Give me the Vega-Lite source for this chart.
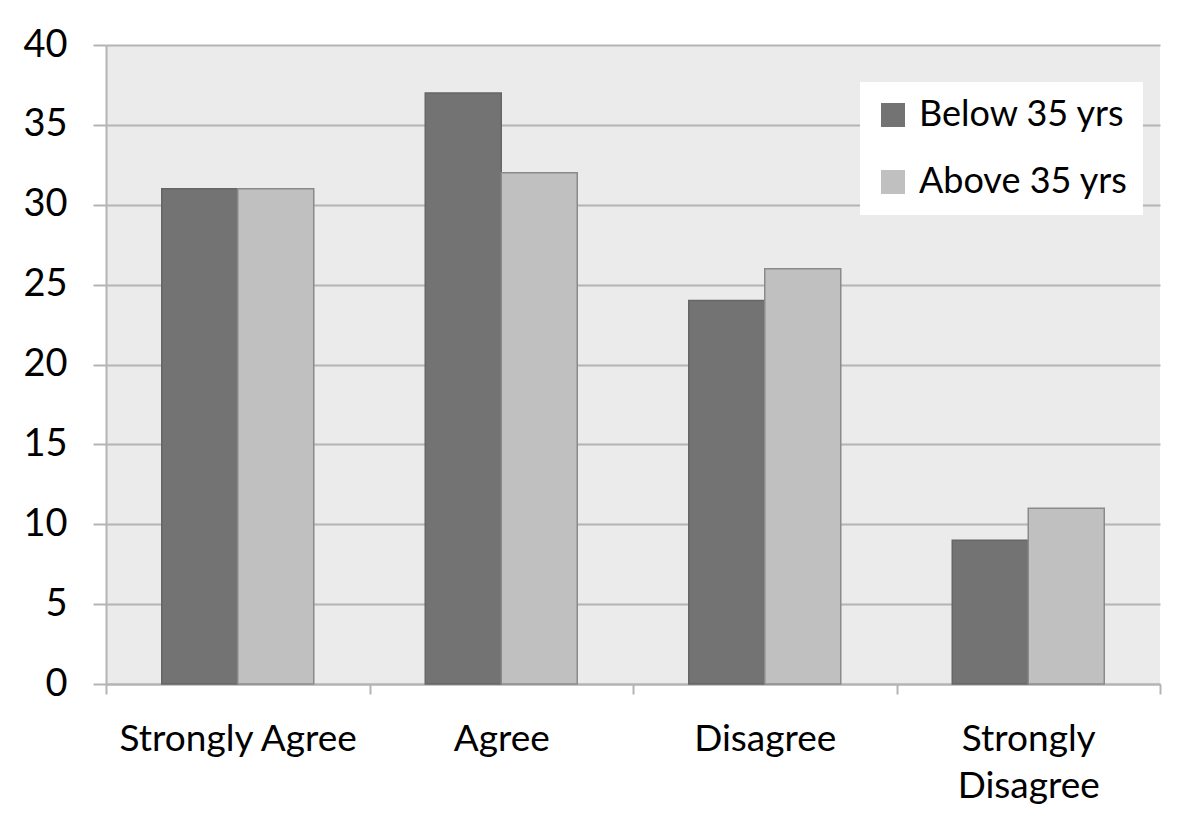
{
  "$schema": "https://vega.github.io/schema/vega-lite/v6.json",
  "autosize": "none",
  "width": 1054,
  "height": 639,
  "padding": {"left": 106, "top": 45, "right": 40, "bottom": 132},
  "background": "white",
  "data": {
    "values": [
      {"response": "Strongly Agree", "group": "Below 35 yrs", "percent": 31},
      {"response": "Strongly Agree", "group": "Above 35 yrs", "percent": 31},
      {"response": "Agree", "group": "Below 35 yrs", "percent": 37},
      {"response": "Agree", "group": "Above 35 yrs", "percent": 32},
      {"response": "Disagree", "group": "Below 35 yrs", "percent": 24},
      {"response": "Disagree", "group": "Above 35 yrs", "percent": 26},
      {"response": "Strongly Disagree", "group": "Below 35 yrs", "percent": 9},
      {"response": "Strongly Disagree", "group": "Above 35 yrs", "percent": 11}
    ]
  },
  "mark": {"type": "bar", "strokeWidth": 1.5},
  "encoding": {
    "x": {
      "field": "response",
      "type": "nominal",
      "sort": ["Strongly Agree", "Agree", "Disagree", "Strongly Disagree"],
      "scale": {"paddingInner": 0, "paddingOuter": 0},
      "axis": {
        "title": null,
        "labelAngle": 0,
        "tickBand": "extent",
        "labelExpr": "datum.value == 'Strongly Disagree' ? ['Strongly', 'Disagree'] : datum.value",
        "labelLineHeight": 47,
        "labelFont": "Lato",
        "labelFontSize": 37,
        "labelColor": "black",
        "labelLimit": 0,
        "labelPadding": 27,
        "tickSize": 10,
        "tickWidth": 2,
        "tickColor": "#b4b4b4",
        "domainColor": "#b4b4b4",
        "domainWidth": 2,
        "grid": false
      }
    },
    "xOffset": {
      "field": "group",
      "type": "nominal",
      "sort": ["Below 35 yrs", "Above 35 yrs"],
      "scale": {"paddingInner": 0, "paddingOuter": 0.7336}
    },
    "y": {
      "field": "percent",
      "type": "quantitative",
      "scale": {"domain": [0, 40], "nice": false},
      "axis": {
        "title": null,
        "values": [0, 5, 10, 15, 20, 25, 30, 35, 40],
        "labelFont": "Lato",
        "labelFontSize": 38,
        "labelColor": "black",
        "labelPadding": 26,
        "tickSize": 13,
        "tickWidth": 2,
        "tickColor": "#b4b4b4",
        "domainColor": "#b4b4b4",
        "domainWidth": 2,
        "grid": true,
        "gridColor": "#b4b4b4",
        "gridWidth": 2
      }
    },
    "fill": {
      "field": "group",
      "type": "nominal",
      "sort": ["Below 35 yrs", "Above 35 yrs"],
      "scale": {"range": ["#737373", "#c0c0c0"]},
      "legend": {
        "title": null,
        "orient": "none",
        "legendX": 754,
        "legendY": 37,
        "fillColor": "white",
        "padding": 15,
        "symbolType": "square",
        "symbolSize": 576,
        "symbolStrokeWidth": 1.5,
        "labelFont": "Lato",
        "labelFontSize": 36,
        "labelColor": "black",
        "labelLimit": 0,
        "labelOffset": 8,
        "rowPadding": 31
      }
    },
    "stroke": {
      "field": "group",
      "type": "nominal",
      "sort": ["Below 35 yrs", "Above 35 yrs"],
      "scale": {"range": ["#666666", "#8a8a8a"]},
      "legend": null
    }
  },
  "config": {
    "view": {"fill": "#ebebeb", "stroke": null}
  }
}
